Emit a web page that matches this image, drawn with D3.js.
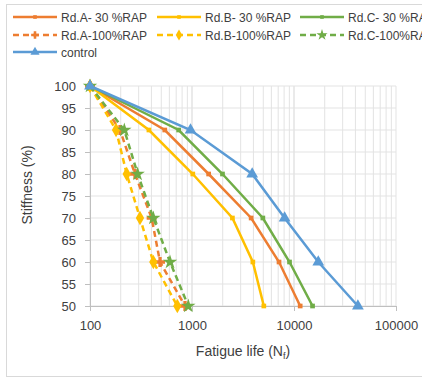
<!DOCTYPE html>
<html><head><meta charset="utf-8">
<script src="https://cdn.jsdelivr.net/npm/d3@7"></script>
<style>body{margin:0;background:#fff}svg{display:block}text{font-family:"Liberation Sans",Arial,sans-serif;fill:#404040}</style>
</head><body><svg id="c" width="422" height="378"></svg>
<script>
const stiffness = [100, 90, 80, 70, 60, 50];
const rdA30  = [100, 541, 1456, 3800, 7130, 11500];
const rdB30  = [100, 378, 1018, 2490, 3950, 5060];
const rdC30  = [100, 740, 1990, 4950, 9040, 15200];
const rdA100 = [100, 197, 276, 402, 486, 854];
const rdB100 = [100, 180, 229, 309, 418, 718];
const rdC100 = [100, 217, 293, 418, 609, 920];
const control = [100, 967, 3890, 8090, 17300, 42300];
const seriesNames = ["Rd.A- 30 %RAP","Rd.B- 30 %RAP","Rd.C- 30 %RAP","Rd.A-100%RAP","Rd.B-100%RAP","Rd.C-100%RAP","control"];
const xTicks = [100, 1000, 10000, 100000];
const yTicks = [50,55,60,65,70,75,80,85,90,95,100];

const series = [
  {name: seriesNames[0], x: rdA30, color: "#ED7D31", dash: null, sym: d3.symbolSquare, size: 22},
  {name: seriesNames[1], x: rdB30, color: "#FFC000", dash: null, sym: d3.symbolSquare, size: 22},
  {name: seriesNames[2], x: rdC30, color: "#70AD47", dash: null, sym: d3.symbolSquare, size: 22},
  {name: seriesNames[3], x: rdA100, color: "#ED7D31", dash: "6,4", sym: d3.symbolCross, size: 55},
  {name: seriesNames[4], x: rdB100, color: "#FFC000", dash: "6,4", sym: d3.symbolDiamond, size: 60},
  {name: seriesNames[5], x: rdC100, color: "#70AD47", dash: "6,4", sym: d3.symbolStar, size: 65},
  {name: seriesNames[6], x: control, color: "#5B9BD5", dash: null, sym: d3.symbolTriangle, size: 60}
];

const svg = d3.select("#c");
svg.append("rect").attr("x",6.5).attr("y",4.5).attr("width",430).attr("height",372)
  .attr("fill","none").attr("stroke","#d9d9d9");

const x = d3.scaleLog().domain([100,100000]).range([90,396]);
const y = d3.scaleLinear().domain([50,100]).range([306,86]);

// gridlines
const g = svg.append("g");
const minor = [];
for (let d = 100; d < 100000; d *= 10) for (let k = 1; k <= 10; k++) minor.push(d*k);
g.selectAll("line.vx").data(minor).join("line")
  .attr("x1",d=>x(d)).attr("x2",d=>x(d)).attr("y1",86).attr("y2",306)
  .attr("stroke","#e3e3e3").attr("stroke-width",1);
g.selectAll("line.hy").data(yTicks).join("line").attr("class","hy")
  .attr("x1",90).attr("x2",396).attr("y1",d=>y(d)).attr("y2",d=>y(d))
  .attr("stroke","#e3e3e3").attr("stroke-width",1);

// axes
const xa = svg.append("g").attr("transform","translate(0,306)")
  .call(d3.axisBottom(x).tickValues(xTicks).tickFormat(d3.format("d")).tickSize(5).tickSizeOuter(0));
const ya = svg.append("g").attr("transform","translate(90,0)")
  .call(d3.axisLeft(y).tickValues(yTicks).tickSize(5).tickSizeOuter(0));
[xa, ya].forEach(a => {
  a.select(".domain").attr("stroke","#bfbfbf");
  a.selectAll(".tick line").attr("stroke","#bfbfbf");
  a.selectAll("text").attr("fill","#404040").style("font-size","13px").style("font-family","Liberation Sans, Arial, sans-serif");
});
xa.selectAll("text").attr("dy","0").attr("y",24);
ya.selectAll("text").attr("x",-14);

// titles
const xt = svg.append("text").attr("x",243).attr("y",356).attr("text-anchor","middle").style("font-size","14px");
xt.append("tspan").text("Fatigue life (N");
xt.append("tspan").attr("dy",3).style("font-size","9px").text("f");
xt.append("tspan").attr("dy",-3).text(")");
svg.append("text").attr("transform","translate(32,185) rotate(-90)").attr("text-anchor","middle")
  .style("font-size","14px").text("Stiffness (%)");

// series
const line = d3.line().x(d=>x(d[0])).y(d=>y(d[1]));
series.forEach(s => {
  const pts = s.x.map((v,i)=>[v, stiffness[i]]);
  svg.append("path").datum(pts).attr("d",line).attr("fill","none")
    .attr("stroke",s.color).attr("stroke-width",2.5).attr("stroke-dasharray",s.dash);
  svg.append("g").selectAll("path").data(pts).join("path")
    .attr("transform",d=>`translate(${x(d[0])},${y(d[1])})`)
    .attr("d",d3.symbol().type(s.sym).size(s.size)).attr("fill",s.color);
});

// legend
const legPos = [[13,17],[157,17],[300,17],[13,35],[157,35],[300,35],[13,52]];
series.forEach((s,i) => {
  const [lx, ly] = legPos[i];
  const lg = svg.append("g");
  lg.append("line").attr("x1",lx).attr("x2",lx+44).attr("y1",ly).attr("y2",ly)
    .attr("stroke",s.color).attr("stroke-width",2.5).attr("stroke-dasharray",s.dash);
  lg.append("path").attr("transform",`translate(${lx+22},${ly})`)
    .attr("d",d3.symbol().type(s.sym).size(s.size*0.6)).attr("fill",s.color);
  lg.append("text").attr("x",lx+48).attr("y",ly+4.5).style("font-size","12px").text(s.name);
});
</script></body></html>
